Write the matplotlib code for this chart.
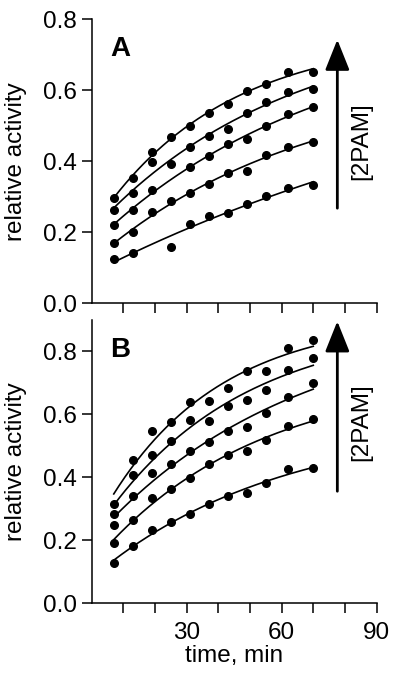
import numpy as np
import matplotlib
matplotlib.use("Agg")
import matplotlib.pyplot as plt

plt.rcParams['font.family'] = ['Liberation Sans', 'DejaVu Sans']

time_min = [7, 13, 19, 25, 31, 37, 43, 49, 55, 62, 70]

# Panel A (bottom series to top series, increasing [2PAM])
a_s1 = [0.124, 0.143, np.nan, 0.158, 0.224, 0.246, 0.254, 0.280, 0.303, 0.324, 0.332]
a_s2 = [0.169, 0.200, 0.257, 0.288, 0.310, 0.336, 0.366, 0.374, 0.418, 0.441, 0.455]
a_s3 = [0.222, 0.263, 0.319, np.nan, 0.383, 0.415, 0.449, 0.463, 0.500, 0.533, 0.552]
a_s4 = [0.264, 0.310, 0.397, 0.393, 0.440, 0.471, 0.491, 0.535, 0.566, 0.596, 0.604]
a_s5 = [0.298, 0.352, 0.427, 0.468, 0.498, 0.535, 0.561, 0.599, 0.617, 0.652, 0.652]

# Panel B
b_s1 = [0.128, 0.183, 0.234, 0.259, 0.284, 0.314, 0.340, 0.351, 0.381, 0.428, 0.430]
b_s2 = [0.191, 0.264, 0.335, 0.364, 0.399, 0.441, 0.470, 0.483, 0.518, 0.564, 0.587]
b_s3 = [0.250, 0.340, 0.413, 0.441, 0.484, 0.513, 0.548, 0.559, 0.603, 0.654, 0.700]
b_s4 = [0.285, 0.407, 0.470, 0.516, 0.582, 0.580, 0.626, 0.646, 0.679, 0.742, 0.779]
b_s5 = [0.317, 0.455, 0.548, 0.575, 0.640, 0.643, 0.683, 0.737, 0.739, 0.812, 0.837]

panel_labels = ["A", "B"]
y_tick_values = [0.0, 0.2, 0.4, 0.6, 0.8]
x_tick_values = [10, 20, 30, 40, 50, 60, 70, 80, 90]
x_tick_labels = ["", "", "30", "", "", "60", "", "", "90"]

FS = 17.5


def exp_fit(t, y):
    t = np.asarray(t, float)
    y = np.asarray(y, float)
    m = ~np.isnan(y)
    t, y = t[m], y[m]
    best = None
    for k in np.linspace(0.001, 0.2, 400):
        X = np.column_stack([np.ones_like(t), -np.exp(-k * t)])
        coef, res, *_ = np.linalg.lstsq(X, y, rcond=None)
        r = np.sum((X @ coef - y) ** 2)
        if best is None or r < best[0]:
            best = (r, k, coef)
    _, k, (a, b) = best
    return lambda tt: a - b * np.exp(-k * tt)


fig = plt.figure(figsize=(4, 6.8), dpi=100)
axA = fig.add_axes([0.229, 0.5537, 0.7125, 0.4183])
axB = fig.add_axes([0.229, 0.1128, 0.7125, 0.4166])

panels = [
    (axA, [a_s1, a_s2, a_s3, a_s4, a_s5], 0.8, (0.268, 0.742), 0.456, 0.695),
    (axB, [b_s1, b_s2, b_s3, b_s4, b_s5], 0.9, (0.356, 0.896), 0.575, 0.782),
]

t = np.asarray(time_min, float)
tt = np.linspace(t.min(), t.max(), 200)

for i, (ax, series, ytop, (arr0, arr1), txt_y, lab_y) in enumerate(panels):
    for s in series:
        f = exp_fit(time_min, s)
        ax.plot(tt, f(tt), color='black', lw=1.2, zorder=2)
        ax.plot(time_min, s, 'o', color='black', ms=5.5, zorder=3)
    ax.set_xlim(0, 90)
    ax.set_ylim(0, ytop)
    ax.spines['top'].set_visible(False)
    ax.spines['right'].set_visible(False)
    for sp in ['left', 'bottom']:
        ax.spines[sp].set_linewidth(1.1)
    ax.set_yticks(y_tick_values)
    ax.set_yticklabels([f"{v:.1f}" for v in y_tick_values])
    ax.set_xticks(x_tick_values)
    if i == 1:
        ax.set_xticklabels(x_tick_labels)
        ax.set_xlabel("time, min", fontsize=FS, labelpad=1)
    else:
        ax.set_xticklabels([])
    ax.tick_params(axis='both', direction='out', length=7.5, width=1.1,
                   labelsize=FS)
    ax.tick_params(axis='y', pad=3)
    ax.tick_params(axis='x', pad=6)
    ax.set_ylabel("relative activity", fontsize=FS)
    ax.annotate("", xy=(77.6, arr1), xytext=(77.6, arr0),
                arrowprops=dict(arrowstyle='-|>,head_length=1.25,head_width=0.5',
                                lw=2, color='black', mutation_scale=15,
                                shrinkA=0, shrinkB=0))
    ax.text(85.3, txt_y, "[2PAM]", rotation=90, ha='center', va='center',
            fontsize=FS)
    ax.text(6.0, lab_y, panel_labels[i], fontsize=20, fontweight='bold',
            ha='left', va='baseline')

axA.yaxis.set_label_coords(-0.227, 0.5)
axB.yaxis.set_label_coords(-0.227, 0.5)

fig.savefig("out.png", dpi=100)
